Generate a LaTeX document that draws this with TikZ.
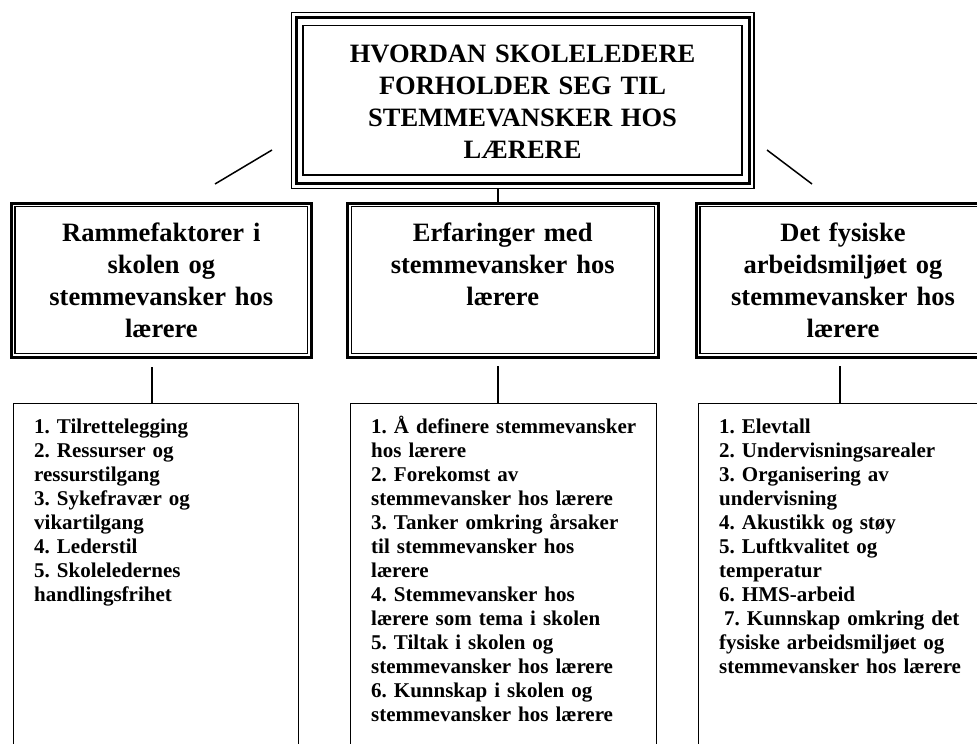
\documentclass[tikz,border=0pt]{standalone}
\usepackage{fontspec}
\setmainfont{Liberation Serif}
\frenchspacing
\begin{document}
\begin{tikzpicture}[x=1pt,y=-1pt,
  every node/.style={inner sep=0pt},
  thinline/.style={draw=black,line width=1.3pt},
  thickline/.style={draw=black,line width=3pt},
  listline/.style={draw=black,line width=1.4pt},
  link/.style={draw=black,line width=1.5pt},
  hdr/.style={font=\fontsize{26.5}{32}\selectfont\bfseries,text width=300pt,align=center,anchor=base},
  lst/.style={font=\fontsize{21}{24}\selectfont\bfseries,text width=270pt,align=left,anchor=base west}]
\useasboundingbox (0,0) rectangle (977,744);
\clip (0,0) rectangle (977,744);
\node [thinline, minimum width=462.7pt, minimum height=175.5pt] (title) at (522.6,100.5) {};
\draw [thickline] ([shift={(5.5,5.5)}]title.north west) rectangle ([shift={(-5.5,-5.5)}]title.south east);
\draw [thinline] ([shift={(12.5,13.5)}]title.north west) rectangle ([shift={(-12.5,-14)}]title.south east);
\node [hdr, text width=440pt] (titletxt) at (522.6,62) {HVORDAN SKOLELEDERE\\FORHOLDER SEG TIL\\STEMMEVANSKER HOS\\LÆRERE};
\node [thickline, minimum width=300pt, minimum height=154pt] (hdrA) at (161.3,280) {};
\draw [thinline] ([shift={(5.3,5.3)}]hdrA.north west) rectangle ([shift={(-5.3,-5.3)}]hdrA.south east);
\node [hdr] (hdrAtxt) at (161.3,241) {Rammefaktorer i\\skolen og\\stemmevansker hos\\lærere};
\node [thickline, minimum width=310.7pt, minimum height=154pt] (hdrB) at (502.7,280) {};
\draw [thinline] ([shift={(5.3,5.3)}]hdrB.north west) rectangle ([shift={(-5.3,-5.3)}]hdrB.south east);
\node [hdr] (hdrBtxt) at (502.7,241) {Erfaringer med\\stemmevansker hos\\lærere};
\node [thickline, minimum width=293.4pt, minimum height=154pt] (hdrC) at (843,280) {};
\draw [thinline] ([shift={(5.3,5.3)}]hdrC.north west) rectangle ([shift={(-5.3,-5.3)}]hdrC.south east);
\node [hdr] (hdrCtxt) at (843,241) {Det fysiske\\arbeidsmiljøet og\\stemmevansker hos\\lærere};
\node [listline, minimum width=285pt, minimum height=400pt, anchor=north west] (listA) at (13,402.5) {};
\node [lst] (listAtxt) at (34,433) {1. Tilrettelegging\\2. Ressurser og\\ressurstilgang\\3. Sykefravær og\\vikartilgang\\4. Lederstil\\5. Skoleledernes\\handlingsfrihet};
\node [listline, minimum width=306pt, minimum height=400pt, anchor=north west] (listB) at (350,402.5) {};
\node [lst] (listBtxt) at (371,433) {1. Å definere stemmevansker\\hos lærere\\2. Forekomst av\\stemmevansker hos lærere\\3. Tanker omkring årsaker\\til stemmevansker hos\\lærere\\4. Stemmevansker hos\\lærere som tema i skolen\\5. Tiltak i skolen og\\stemmevansker hos lærere\\6. Kunnskap i skolen og\\stemmevansker hos lærere};
\node [listline, minimum width=300pt, minimum height=400pt, anchor=north west] (listC) at (698,402.5) {};
\node [lst] (listCtxt) at (719,433) {1. Elevtall\\2. Undervisningsarealer\\3. Organisering av\\undervisning\\4. Akustikk og støy\\5. Luftkvalitet og\\temperatur\\6. HMS-arbeid\\\hspace*{5pt}7. Kunnskap omkring det\\fysiske arbeidsmiljøet og\\stemmevansker hos lærere};
\coordinate (a0) at (152,367);
\coordinate (b0) at (498,366);
\coordinate (c0) at (840,366);
\coordinate (dl1) at (272,150);
\coordinate (dl2) at (215,184);
\coordinate (dr1) at (767,150);
\coordinate (dr2) at (812,184);
\draw [link] (title.south -| b0) -- (b0 |- hdrB.north);
\draw [link] (dl1) -- (dl2);
\draw [link] (dr1) -- (dr2);
\draw [link] (a0) -- (a0 |- listA.north);
\draw [link] (b0) -- (b0 |- listB.north);
\draw [link] (c0) -- (c0 |- listC.north);
\end{tikzpicture}
\end{document}
